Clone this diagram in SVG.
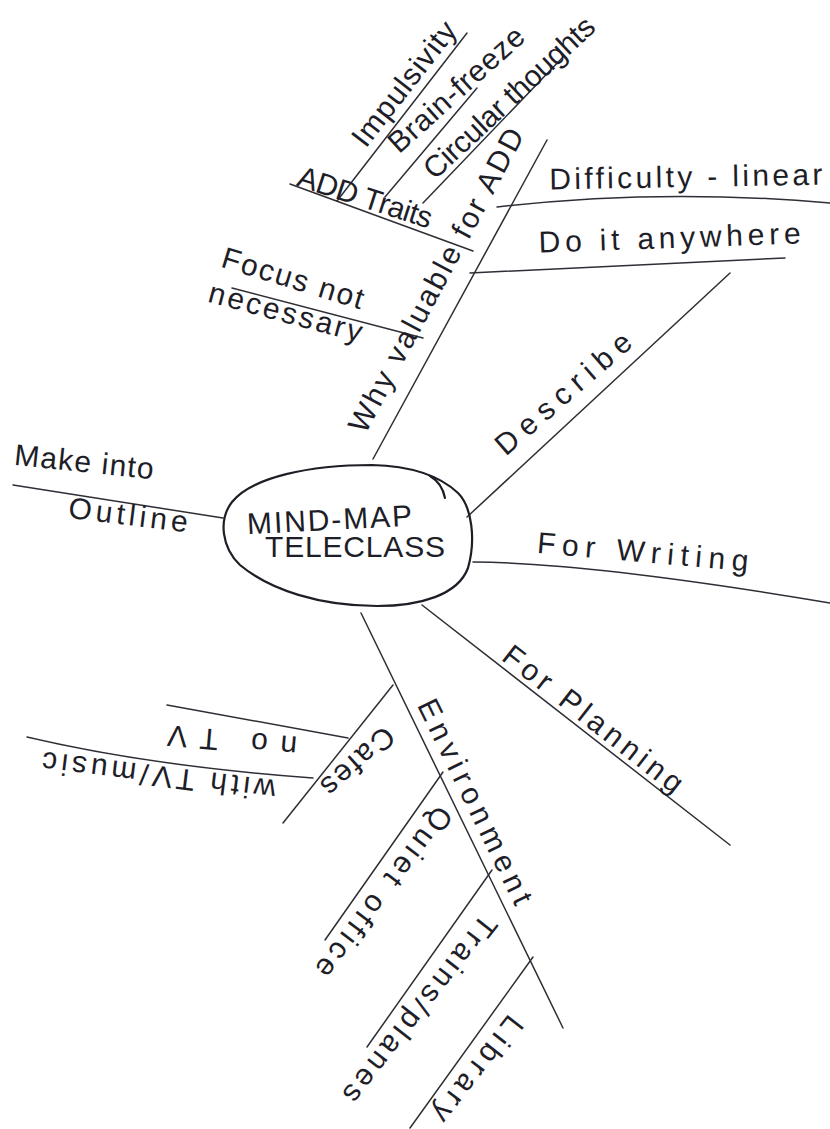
<svg xmlns="http://www.w3.org/2000/svg" width="830" height="1129" viewBox="0 0 830 1129">
<style>
.bg{fill:#ffffff}
.ln{fill:none;stroke:#2e2e36;stroke-width:1.5;stroke-linecap:round}
.hub{fill:none;stroke:#1e1e26;stroke-width:2.2;stroke-linecap:round}
.t{font-family:"Liberation Sans",Arial,sans-serif;fill:#1e1e28;font-size:30px;text-anchor:middle}
</style>
<rect class="bg" x="0" y="0" width="830" height="1129"/>
<g id="connectors">
<path class="ln" d="M373,459 L547,140"/>
<path class="ln" d="M290,184 L473,251"/>
<path class="ln" d="M337,201 L467,33"/>
<path class="ln" d="M385,197 L477,88"/>
<path class="ln" d="M423,203 L563,57"/>
<path class="ln" d="M497,207 Q660,188 830,203"/>
<path class="ln" d="M470,273 L785,258"/>
<path class="ln" d="M232,288 L423,338"/>
<path class="ln" d="M467,517 L730,273"/>
<path class="ln" d="M13,485 L223,518"/>
<path class="ln" d="M473,562 Q593,563 830,603"/>
<path class="ln" d="M422,605 L730,845"/>
<path class="ln" d="M361,613 L563,1028"/>
<path class="ln" d="M393,685 L283,823"/>
<path class="ln" d="M348,738 L167,705"/>
<path class="ln" d="M313,778 Q150,766 27,737"/>
<path class="ln" d="M443,772 L325,940"/>
<path class="ln" d="M492,870 L367,1047"/>
<path class="ln" d="M533,957 L410,1128"/>
</g>
<g id="hub">
<path class="hub" d="M372,465 C412,466 440,476 458,493 C472,507 476,540 468,568 C458,595 420,606 377,606 C320,606 270,590 240,565 C222,548 218,520 232,502 C252,477 310,465 372,465 Z"/>
<path class="hub" d="M430,476 Q442,483 445,498"/>
<text class="t" font-size="32" transform="translate(330,530) rotate(-3)" textLength="165" lengthAdjust="spacing">MIND-MAP</text>
<text class="t" font-size="32" transform="translate(355,557)" textLength="180" lengthAdjust="spacing">TELECLASS</text>
</g>
<g id="why"><text class="t" font-size="32" transform="translate(445,285) rotate(-62)" textLength="340" lengthAdjust="spacing">Why valuable for ADD</text></g>
<g id="add-traits"><text class="t" font-size="27" transform="translate(362,207) rotate(18)" textLength="140" lengthAdjust="spacing">ADD Traits</text></g>
<g id="impulsivity"><text class="t" font-size="29" transform="translate(412,90) rotate(-52)" textLength="150" lengthAdjust="spacing">Impulsivity</text></g>
<g id="brain-freeze"><text class="t" font-size="29" transform="translate(463,97) rotate(-42)" textLength="172" lengthAdjust="spacing">Brain-freeze</text></g>
<g id="circular"><text class="t" font-size="29" transform="translate(516,105) rotate(-43)" textLength="222" lengthAdjust="spacing">Circular thoughts</text></g>
<g id="difficulty"><text class="t" font-size="28" transform="translate(686,187) rotate(-1)" textLength="273" lengthAdjust="spacing">Difficulty - linear</text></g>
<g id="anywhere"><text class="t" transform="translate(670,248) rotate(-2)" textLength="262" lengthAdjust="spacing">Do it anywhere</text></g>
<g id="focus">
<text class="t" font-size="29" transform="translate(290,288) rotate(17)" textLength="147" lengthAdjust="spacing">Focus not</text>
<text class="t" font-size="29" transform="translate(283,322) rotate(15)" textLength="158" lengthAdjust="spacing">necessary</text>
</g>
<g id="describe"><text class="t" font-size="33" transform="translate(570,401) rotate(-41)" textLength="170" lengthAdjust="spacing">Describe</text></g>
<g id="outline">
<text class="t" transform="translate(83,472) rotate(6)" textLength="140" lengthAdjust="spacing">Make into</text>
<text class="t" transform="translate(127,525) rotate(7)" textLength="120" lengthAdjust="spacing">Outline</text>
</g>
<g id="writing"><text class="t" font-size="32" transform="translate(642,562) rotate(5)" textLength="212" lengthAdjust="spacing">For Writing</text></g>
<g id="planning"><text class="t" font-size="32" transform="translate(587,727) rotate(38)" textLength="220" lengthAdjust="spacing">For Planning</text></g>
<g id="environment"><text class="t" font-size="34" transform="translate(466,806) rotate(64)" textLength="225" lengthAdjust="spacing">Environment</text></g>
<g id="cafes"><text class="t" transform="translate(351,754) rotate(138)" textLength="88" lengthAdjust="spacing">Cafes</text></g>
<g id="no-tv"><text class="t" transform="translate(233,731) rotate(185)" textLength="130" lengthAdjust="spacing">no TV</text></g>
<g id="with-tv"><text class="t" transform="translate(160,766) rotate(187)" textLength="235" lengthAdjust="spacing">with TV/music</text></g>
<g id="quiet"><text class="t" transform="translate(376,886) rotate(127)" textLength="206" lengthAdjust="spacing">Quiet office</text></g>
<g id="trains"><text class="t" transform="translate(412,1003) rotate(128)" textLength="230" lengthAdjust="spacing">Trains/planes</text></g>
<g id="library"><text class="t" transform="translate(470,1063) rotate(128)" textLength="127" lengthAdjust="spacing">Library</text></g>
</svg>
